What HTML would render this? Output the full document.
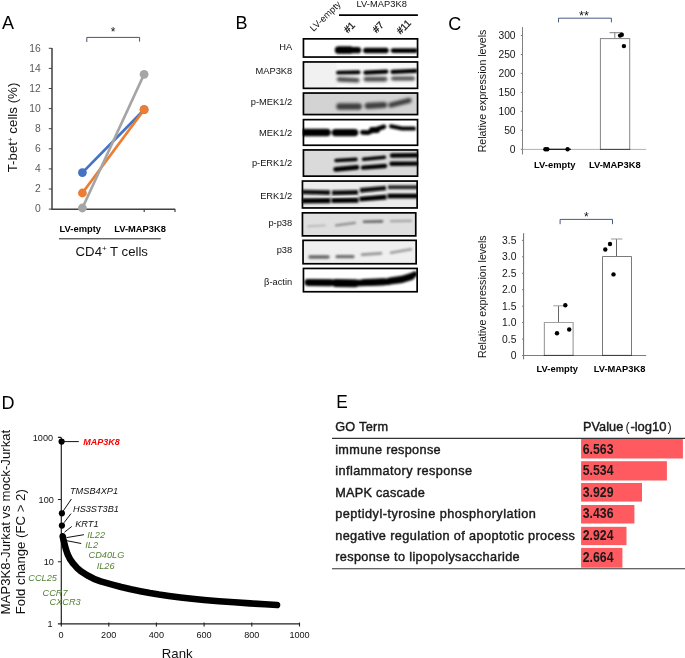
<!DOCTYPE html>
<html>
<head>
<meta charset="utf-8">
<title>Figure</title>
<style>
html,body{margin:0;padding:0;background:#fff;}
body{width:685px;height:658px;overflow:hidden;font-family:"Liberation Sans",sans-serif;}
svg{display:block;will-change:transform;}
svg text{font-family:"Liberation Sans",sans-serif;}
.pl{font-size:18px;fill:#000;}
.bl{font-size:9.35px;font-weight:bold;fill:#000;}
.at{font-size:10.3px;fill:#595959;}
.ct{font-size:10.3px;fill:#151515;}
.bt{font-size:9.3px;fill:#111;}
.bh{font-size:9.8px;fill:#111;stroke:#111;stroke-width:0.3px;}
.dt{font-size:9.1px;fill:#111;}
.gi{font-size:9.2px;font-style:italic;fill:#111;}
.gg{font-size:9.2px;font-style:italic;fill:#548235;}
.et{font-size:12.7px;fill:#1a1a1a;stroke:#1a1a1a;stroke-width:0.42px;}
.en{font-size:14.3px;font-weight:bold;fill:#1a1a1a;}
</style>
</head>
<body>
<svg width="685" height="658" viewBox="0 0 685 658">
<defs>
<filter id="b0" filterUnits="userSpaceOnUse" x="290" y="30" width="140" height="275"><feGaussianBlur stdDeviation="0.6"/></filter>
<filter id="b1" filterUnits="userSpaceOnUse" x="290" y="30" width="140" height="275"><feGaussianBlur stdDeviation="0.9"/></filter>
<filter id="b2" filterUnits="userSpaceOnUse" x="290" y="30" width="140" height="275"><feGaussianBlur stdDeviation="1.4"/></filter>
<filter id="b3" filterUnits="userSpaceOnUse" x="290" y="30" width="140" height="275"><feGaussianBlur stdDeviation="2"/></filter>
</defs>
<rect width="685" height="658" fill="#fff"/>

<!-- ================= PANEL A ================= -->
<g id="panelA">
<text class="pl" x="2.1" y="29.2">A</text>
<!-- bracket -->
<path d="M86.8 42 V37.4 H139.6 V41.6" fill="none" stroke="#44546a" stroke-width="1"/>
<text x="113" y="36.3" font-size="12" text-anchor="middle" fill="#111">*</text>
<!-- axes -->
<path d="M52 48 V209.2 H175.2" fill="none" stroke="#404040" stroke-width="1.5"/>
<g stroke="#404040" stroke-width="1">
<path d="M48.8 48.3H52M48.8 68.4H52M48.8 88.5H52M48.8 108.6H52M48.8 128.7H52M48.8 148.8H52M48.8 168.9H52M48.8 189H52M48.8 209.1H52"/>
<path d="M144.2 209.2V212M175 209.2V212" stroke-width="1.2"/>
</g>
<g class="at" text-anchor="end">
<text x="40.7" y="51.6">16</text>
<text x="40.7" y="71.7">14</text>
<text x="40.7" y="91.8">12</text>
<text x="40.7" y="111.9">10</text>
<text x="40.7" y="132.0">8</text>
<text x="40.7" y="152.1">6</text>
<text x="40.7" y="172.2">4</text>
<text x="40.7" y="192.3">2</text>
<text x="40.7" y="212.4">0</text>
</g>
<text transform="translate(17.4 127.5) rotate(-90)" font-size="13.3" text-anchor="middle" fill="#111">T-bet<tspan font-size="8" dy="-4.5">+</tspan><tspan dy="4.5"> cells (%)</tspan></text>
<!-- series -->
<g stroke-width="2.7" stroke-linecap="round">
<line x1="82.4" y1="172.6" x2="144.1" y2="109.7" stroke="#4472c4"/>
<line x1="82.4" y1="193" x2="144.1" y2="109.7" stroke="#ed7d31"/>
<line x1="82.4" y1="208" x2="144.1" y2="74.3" stroke="#a5a5a5"/>
</g>
<circle cx="82.4" cy="172.6" r="4.4" fill="#4472c4"/>
<circle cx="144.1" cy="109.7" r="4.4" fill="#4472c4"/>
<circle cx="82.4" cy="193" r="4.4" fill="#ed7d31"/>
<circle cx="144.1" cy="109.7" r="4.4" fill="#ed7d31"/>
<circle cx="82.4" cy="208" r="4.4" fill="#a5a5a5"/>
<circle cx="144.1" cy="74.3" r="4.4" fill="#a5a5a5"/>
<text class="bl" x="59.6" y="231.6">LV-empty</text>
<text class="bl" x="114.2" y="231.6">LV-MAP3K8</text>
<line x1="59" y1="238.8" x2="160.8" y2="238.8" stroke="#222" stroke-width="1"/>
<text x="75.6" y="255.7" font-size="13.2" fill="#111">CD4<tspan font-size="8" dy="-4.5">+</tspan><tspan dy="4.5"> T cells</tspan></text>
</g>

<!-- ================= PANEL B ================= -->
<g id="panelB">
<text class="pl" x="235.5" y="29.2" font-size="18.4">B</text>
<text class="bt" x="356.5" y="6.7" font-size="9.7" textLength="50.4" lengthAdjust="spacing">LV-MAP3K8</text>
<line x1="339" y1="15.1" x2="417.9" y2="15.1" stroke="#000" stroke-width="1.9"/>
<text class="bt" transform="translate(313.6 31.9) rotate(-44)" font-size="9.7">LV-empty</text>
<text class="bh" transform="translate(347.8 33.6) rotate(-45)">#1</text>
<text class="bh" transform="translate(376.6 33.4) rotate(-45)">#7</text>
<text class="bh" transform="translate(400.6 34.8) rotate(-45)">#11</text>
<g class="bt" text-anchor="end">
<text x="292.2" y="49.5">HA</text>
<text x="292.2" y="74.4">MAP3K8</text>
<text x="292.2" y="104.9">p-MEK1/2</text>
<text x="292.2" y="135.7">MEK1/2</text>
<text x="292.2" y="165.7">p-ERK1/2</text>
<text x="292.2" y="198.7">ERK1/2</text>
<text x="292.2" y="225.7">p-p38</text>
<text x="292.2" y="252.5">p38</text>
<text x="292.2" y="284.6">β-actin</text>
</g>
<clipPath id="c1"><rect x="302.6" y="38" width="115.8" height="19.9"/></clipPath>
<clipPath id="c2"><rect x="302.6" y="61.1" width="115.8" height="28.1"/></clipPath>
<clipPath id="c3"><rect x="302.6" y="92.2" width="115.8" height="23.2"/></clipPath>
<clipPath id="c4"><rect x="302.6" y="118.8" width="115.8" height="27.3"/></clipPath>
<clipPath id="c5"><rect x="302.6" y="149.1" width="115.8" height="27.9"/></clipPath>
<clipPath id="c6"><rect x="301.6" y="180.3" width="116.4" height="28.5"/></clipPath>
<clipPath id="c7"><rect x="301.6" y="212" width="114.9" height="24.7"/></clipPath>
<clipPath id="c8"><rect x="302.2" y="239.5" width="114.8" height="25.1"/></clipPath>
<clipPath id="c9"><rect x="302.6" y="267.6" width="115.4" height="25"/></clipPath>

<!-- 1 HA -->
<g clip-path="url(#c1)">
<rect x="302.6" y="38" width="115.8" height="19.9" fill="#fff"/>
<g filter="url(#b1)" fill="none" stroke="#000" stroke-linecap="round">
<path d="M338 50.2H358" stroke-width="6.2"/>
<path d="M338.6 50H350" stroke-width="7.4"/>
<path d="M365.8 50.5H386" stroke-width="5.4"/>
<path d="M393 50.6H415.6" stroke-width="4.6"/>
</g>
</g>
<rect x="303.45" y="38.85" width="114.1" height="18.2" fill="none" stroke="#000" stroke-width="1.7"/>

<!-- 2 MAP3K8 -->
<g clip-path="url(#c2)">
<rect x="302.6" y="61.1" width="115.8" height="28.1" fill="#f8f8f8"/>
<rect x="302.6" y="61.1" width="34" height="28.1" fill="#f1f1f1"/>
<g filter="url(#b2)" fill="none" stroke="#484848" stroke-linecap="round">
<path d="M339 79.4L357.4 80.2" stroke-width="4.6"/>
<path d="M366 79.2H385" stroke-width="4.8"/>
<path d="M393 78.4H413" stroke-width="4"/>
</g>
<g filter="url(#b1)" fill="none" stroke="#050505" stroke-linecap="round">
<path d="M338 72.6L358.6 72.2" stroke-width="3.9"/>
<path d="M365.4 72.6L386.4 71.6" stroke-width="4.1"/>
<path d="M392.6 71.8L415.6 70.8" stroke-width="4.3"/>
</g>
</g>
<rect x="303.45" y="61.95" width="114.1" height="26.4" fill="none" stroke="#000" stroke-width="1.7"/>

<!-- 3 p-MEK1/2 -->
<g clip-path="url(#c3)">
<rect x="302.6" y="92.2" width="115.8" height="23.2" fill="#d3d3d3"/>
<g filter="url(#b2)" fill="none" stroke="#3c3c3c" stroke-linecap="round">
<path d="M339.6 106.5H358.6" stroke-width="6.6"/>
<path d="M367.8 105.9L384 105" stroke-width="6.2"/>
<path d="M391 105L409 100.4" stroke-width="5.2"/>
</g>
</g>
<rect x="303.45" y="93.05" width="114.10" height="21.50" fill="none" stroke="#000" stroke-width="1.7"/>

<!-- 4 MEK1/2 -->
<g clip-path="url(#c4)">
<rect x="302.6" y="118.8" width="115.8" height="27.3" fill="#fff"/>
<g filter="url(#b1)" fill="none" stroke="#000" stroke-linecap="round">
<path d="M303 132.5H327" stroke-width="7.6"/>
<path d="M335.4 132.6H354.6" stroke-width="7.4"/>
<path d="M362.4 132.4L368 132.6L375 129.6L384 126.8" stroke-width="4.6"/>
<path d="M372 130H377" stroke-width="6"/>
<path d="M391 126.3L402 128.4L414 128.6" stroke-width="4"/>
</g>
</g>
<rect x="303.45" y="119.65" width="114.10" height="25.60" fill="none" stroke="#000" stroke-width="1.7"/>

<!-- 5 p-ERK1/2 -->
<g clip-path="url(#c5)">
<rect x="302.6" y="149.1" width="115.8" height="27.9" fill="#dadada"/>
<g filter="url(#b1)" fill="none" stroke="#050505" stroke-linecap="round">
<path d="M336 160.5L356 159.4" stroke-width="3.6"/>
<path d="M363.5 159.2L384.5 157.2" stroke-width="3.4"/>
<path d="M392 155.5L417 155.3" stroke-width="4.4"/>
<path d="M335.5 169.4L357 167.4" stroke-width="4.6"/>
<path d="M363 167.6L385 166" stroke-width="4.4"/>
<path d="M391.5 163.8L417 163.6" stroke-width="4.4"/>
</g>
</g>
<rect x="303.45" y="149.95" width="114.10" height="26.20" fill="none" stroke="#000" stroke-width="1.7"/>

<!-- 6 ERK1/2 -->
<g clip-path="url(#c6)">
<rect x="301.6" y="180.3" width="116.4" height="28.5" fill="#ececec"/>
<g filter="url(#b1)" fill="none" stroke-linecap="butt">
<path d="M302 192L330 192.6" stroke="#0c0c0c" stroke-width="4.6"/>
<path d="M332 192.8L358 192.4" stroke="#0c0c0c" stroke-width="4.8"/>
<path d="M360 190.4L386 188" stroke="#0c0c0c" stroke-width="4.6"/>
<path d="M388 187.2L418 187.2" stroke="#2a2a2a" stroke-width="4"/>
<path d="M302 200.8L330.4 200.6" stroke="#000" stroke-width="5.2"/>
<path d="M331.6 200.6L358.4 200.2" stroke="#000" stroke-width="5"/>
<path d="M359.6 199.2L386.4 197" stroke="#000" stroke-width="4.8"/>
<path d="M387.6 196L418 196" stroke="#000" stroke-width="4.8"/>
</g>
<g filter="url(#b0)" fill="none" stroke="#e0e0e0" stroke-width="1.4">
<path d="M302 196.5L329.5 196.6M332 196.7L357 196.3M360 194.9L385 192.5M388 191.6L418 191.6"/>
</g>
</g>
<rect x="302.45" y="181.05" width="114.70" height="26.90" fill="none" stroke="#000" stroke-width="1.7"/>

<!-- 7 p-p38 -->
<g clip-path="url(#c7)">
<rect x="301.6" y="212" width="114.9" height="24.7" fill="#dfdfdf"/>
<g filter="url(#b1)" fill="none" stroke-linecap="round">
<path d="M308 226.4L325 225.4" stroke="#b4b4b4" stroke-width="1.6"/>
<path d="M336 225.4L355 222.8" stroke="#8c8c8c" stroke-width="2.2"/>
<path d="M364 221.8L382 221.4" stroke="#666" stroke-width="2.6"/>
<path d="M391 221.2L411 220.8" stroke="#a2a2a2" stroke-width="2.2"/>
</g>
</g>
<rect x="302.45" y="212.85" width="113.30" height="23.00" fill="none" stroke="#000" stroke-width="1.7"/>

<!-- 8 p38 -->
<g clip-path="url(#c8)">
<rect x="302.2" y="239.5" width="114.8" height="25.2" fill="#efefef"/>
<g filter="url(#b1)" fill="none" stroke-linecap="round">
<path d="M310 257H328" stroke="#666" stroke-width="3.4"/>
<path d="M337 256.7H353" stroke="#6e6e6e" stroke-width="3.2"/>
<path d="M362 254.6L381 253.4" stroke="#949494" stroke-width="2.6"/>
<path d="M391 252.8L411 249.2" stroke="#9c9c9c" stroke-width="2.6"/>
</g>
</g>
<rect x="303.05" y="240.35" width="113.1" height="23.4" fill="none" stroke="#000" stroke-width="1.7"/>

<!-- 9 b-actin -->
<g clip-path="url(#c9)">
<rect x="302.6" y="267.6" width="115.4" height="25" fill="#fff"/>
<g filter="url(#b1)" fill="none" stroke="#000" stroke-linecap="round" stroke-linejoin="round">
<path d="M308 282.4L330 282.8" stroke-width="7"/>
<path d="M336 283L355 283.4" stroke-width="7.8"/>
<path d="M308 282.4L360 283L388 281.8" stroke-width="6.4"/>
<path d="M364 282.6L384 281.8" stroke-width="7"/>
<path d="M390 281L402 279.4L411 276.6" stroke-width="7.2"/>
<path d="M410 277L414.6 274.2" stroke-width="5.6"/>
</g>
</g>
<rect x="303.45" y="268.45" width="113.7" height="23.3" fill="none" stroke="#000" stroke-width="1.7"/>
</g>

<!-- ================= PANEL C ================= -->
<g id="panelC">
<text class="pl" x="448.2" y="29.5" font-size="19">C</text>
<!-- chart 1 -->
<path d="M558.5 22.4V18.2H611.4V22.4" fill="none" stroke="#4a5a80" stroke-width="1"/>
<text x="584" y="19.8" font-size="12.6" text-anchor="middle" fill="#111">**</text>
<line x1="522.5" y1="27" x2="522.5" y2="154.5" stroke="#808080" stroke-width="1"/>
<line x1="522.5" y1="149.4" x2="646.1" y2="149.4" stroke="#b0b0b0" stroke-width="1"/>
<path d="M520.8 35.5H522.5M520.8 54.5H522.5M520.8 73.4H522.5M520.8 92.4H522.5M520.8 111.4H522.5M520.8 130.3H522.5M520.8 149.3H522.5" stroke="#7f7f7f" stroke-width="1"/>
<g class="ct" text-anchor="end">
<text x="515.6" y="39.1">300</text>
<text x="515.6" y="58.1">250</text>
<text x="515.6" y="77">200</text>
<text x="515.6" y="96">150</text>
<text x="515.6" y="115">100</text>
<text x="515.6" y="133.9">50</text>
<text x="515.6" y="152.9">0</text>
</g>
<text transform="translate(486.2 152.3) rotate(-90)" font-size="10.62" fill="#151515">Relative expression levels</text>
<!-- LV-empty (zero) -->
<line x1="545" y1="149.3" x2="571" y2="149.3" stroke="#111" stroke-width="1.2"/>
<circle cx="545.4" cy="149.3" r="2.2" fill="#000"/>
<circle cx="547.3" cy="149.3" r="2.2" fill="#000"/>
<circle cx="567.6" cy="149.3" r="2.2" fill="#000"/>
<!-- LV-MAP3K8 bar -->
<path d="M614.8 38.5V32.7M609.5 32.7H622.4" stroke="#7f7f7f" stroke-width="1" fill="none"/>
<rect x="600.4" y="38.6" width="29.3" height="110.8" fill="#fff" stroke="#858585" stroke-width="1"/><line x1="600" y1="149.4" x2="630.2" y2="149.4" stroke="#444" stroke-width="1"/>
<circle cx="620.1" cy="35.6" r="2.2" fill="#000"/>
<circle cx="621.8" cy="34.8" r="2.2" fill="#000"/>
<circle cx="623.9" cy="46.1" r="2.2" fill="#000"/>
<text class="bl" x="534.1" y="168.3">LV-empty</text>
<text class="bl" x="589" y="168.3">LV-MAP3K8</text>

<!-- chart 2 -->
<path d="M560.1 224.2V219.4H612.5V224.2" fill="none" stroke="#4a5a80" stroke-width="1"/>
<text x="586.3" y="221" font-size="12" text-anchor="middle" fill="#111">*</text>
<line x1="523.6" y1="233.2" x2="523.6" y2="359.3" stroke="#5a5a5a" stroke-width="0.9"/>
<line x1="523.6" y1="355.5" x2="646.1" y2="355.5" stroke="#7c7c7c" stroke-width="1"/>
<path d="M522 240.4H523.6M522 256.8H523.6M522 273.3H523.6M522 289.7H523.6M522 306.2H523.6M522 322.6H523.6M522 339.1H523.6M522 355.5H523.6" stroke="#7f7f7f" stroke-width="1"/>
<g class="ct" text-anchor="end">
<text x="516.4" y="244">3.5</text>
<text x="516.4" y="260.4">3.0</text>
<text x="516.4" y="276.9">2.5</text>
<text x="516.4" y="293.3">2.0</text>
<text x="516.4" y="309.8">1.5</text>
<text x="516.4" y="326.2">1.0</text>
<text x="516.4" y="342.7">0.5</text>
<text x="516.4" y="359.1">0</text>
</g>
<text transform="translate(486.2 358) rotate(-90)" font-size="10.62" fill="#151515">Relative expression levels</text>
<path d="M558.5 322.6V305.8" stroke="#555" stroke-width="0.9" fill="none"/><path d="M553.3 305.8H563" stroke="#a0a0a0" stroke-width="1" fill="none"/>
<path d="M544.4 355.4V322.5H573.1V355.4" fill="#fff" stroke="#a2a2a2" stroke-width="1.2"/><line x1="543.8" y1="355.4" x2="573.7" y2="355.4" stroke="#333" stroke-width="1"/>
<path d="M616.5 256.5V239" stroke="#555" stroke-width="0.9" fill="none"/><path d="M611 239H622.4" stroke="#999" stroke-width="1" fill="none"/>
<path d="M602.5 355.4V256.5H631.5V355.4" fill="#fff" stroke="#6c6c6c" stroke-width="0.9"/><line x1="602" y1="355.4" x2="632" y2="355.4" stroke="#333" stroke-width="1"/>
<circle cx="565.3" cy="305.2" r="2.2" fill="#000"/>
<circle cx="557" cy="333.3" r="2.2" fill="#000"/>
<circle cx="569.2" cy="329.5" r="2.2" fill="#000"/>
<circle cx="610" cy="244" r="2.2" fill="#000"/>
<circle cx="605.3" cy="249.5" r="2.2" fill="#000"/>
<circle cx="613.5" cy="274.4" r="2.2" fill="#000"/>
<text class="bl" x="536.6" y="372.4">LV-empty</text>
<text class="bl" x="593.7" y="372.4">LV-MAP3K8</text>
</g>

<!-- ================= PANEL D ================= -->
<g id="panelD">
<text class="pl" x="1.5" y="408.7" font-size="19.1">D</text>
<path d="M61.3 437.4V623.9H299.5" fill="none" stroke="#222" stroke-width="1.2"/>
<path d="M57.9 437.4H61.3M57.9 499.5H61.3M57.9 561.7H61.3M57.9 623.9H61.3" stroke="#222" stroke-width="1.1"/>
<path d="M61.3 622.4V626.6M108.8 622.4V626.6M156.4 622.4V626.6M204.1 622.4V626.6M251.8 622.4V626.6M299.5 622.4V626.6" stroke="#222" stroke-width="1.1"/>
<g class="dt" text-anchor="end">
<text x="53" y="440.9">1000</text>
<text x="53.8" y="502.9">100</text>
<text x="53.8" y="565">10</text>
<text x="52.5" y="627.2">1</text>
</g>
<g class="dt" text-anchor="middle">
<text x="61.1" y="638.3">0</text>
<text x="108.7" y="638.3">200</text>
<text x="156.4" y="638.3">400</text>
<text x="204.1" y="638.3">600</text>
<text x="251.8" y="638.3">800</text>
<text x="299.5" y="638.3">1000</text>
</g>
<text x="161.8" y="657.6" font-size="13.2" fill="#111">Rank</text>
<text transform="translate(10.1 614.4) rotate(-90)" font-size="13.2" fill="#111">MAP3K8-Jurkat vs mock-Jurkat</text>
<text transform="translate(25.3 614.2) rotate(-90)" font-size="13.2" fill="#111">Fold change (FC &gt; 2)</text>
<!-- curve -->
<polyline fill="none" stroke="#000" stroke-width="6.6" stroke-linecap="round" stroke-linejoin="round"
 points="62.7,536.3 63.4,539.5 64.7,544.7 66,549.5 67.6,554.2 70.2,559.4 73.3,563.7 76.8,567.7 80.9,571.2 87.1,575.3 93.9,578.8 100.7,581.3 112.3,584.6 121.2,587 130.9,589.3 140.3,591.2 149.9,593.1 159,594.6 168.9,596 180.6,597.5 192,598.8 204.1,600 219,601.2 234.3,602.3 250,603.4 265,604.3 277,605"/>
<circle cx="61.6" cy="441.6" r="3.1" fill="#000"/>
<circle cx="61.9" cy="513.3" r="3.1" fill="#000"/>
<circle cx="61.9" cy="525.6" r="3.1" fill="#000"/>
<g stroke="#111" stroke-width="1" fill="none">
<path d="M61.3 441.6H78.8"/>
<path d="M63 511.3L71.4 499"/>
<path d="M63.9 522.8L71 513.6"/>
<path d="M64.5 532.2L71.7 526.5"/>
<path d="M66.6 537.6L83.9 534.7"/>
<path d="M66.8 540.7L81.2 543.5"/>
</g>
<text x="83.3" y="444.8" font-size="9" font-weight="bold" font-style="italic" fill="#ff0000">MAP3K8</text>
<text class="gi" x="70" y="493.7">TMSB4XP1</text>
<text class="gi" x="73" y="512.3">HS3ST3B1</text>
<text class="gi" x="75.2" y="526.5">KRT1</text>
<text class="gg" x="87.2" y="537.9">IL22</text>
<text class="gg" x="85.3" y="548.3">IL2</text>
<text class="gg" x="88.6" y="558.2">CD40LG</text>
<text class="gg" x="96.7" y="569.2">IL26</text>
<text class="gg" x="28.3" y="581.2">CCL25</text>
<text class="gg" x="42.5" y="595.6">CCR7</text>
<text class="gg" x="49.5" y="605.4">CXCR3</text>
</g>

<!-- ================= PANEL E ================= -->
<g id="panelE">
<text x="336.2" y="408.4" font-size="18.6" textLength="11.5" lengthAdjust="spacingAndGlyphs" fill="#000">E</text>
<g class="et">
<text x="335.2" y="431.1" textLength="52.9" lengthAdjust="spacing">GO Term</text>
<text x="583" y="431.1" textLength="40.2" lengthAdjust="spacing">PValue</text>
<text x="630.4" y="431.1" textLength="36.1" lengthAdjust="spacingAndGlyphs">-log10</text>
</g>
<text x="625.4" y="431" font-size="12.6" fill="#1a1a1a">(</text>
<text x="667.6" y="431" font-size="12.6" fill="#1a1a1a">)</text>
<line x1="332" y1="438.4" x2="685" y2="438.4" stroke="#333" stroke-width="1.1"/>
<line x1="332" y1="568.7" x2="685" y2="568.7" stroke="#333" stroke-width="1.1"/>
<g fill="#ff5a60">
<rect x="581.1" y="439" width="101.8" height="19.5"/>
<rect x="581.1" y="461.2" width="85.8" height="19.3"/>
<rect x="581.1" y="483" width="60.9" height="18.6"/>
<rect x="581.1" y="505" width="53.3" height="18.5"/>
<rect x="581.1" y="526.8" width="45.4" height="18.3"/>
<rect x="581.1" y="547.9" width="41.3" height="19.8"/>
</g>
<g class="et">
<text x="335.2" y="453.6" textLength="105.4" lengthAdjust="spacing">immune response</text>
<text x="335.2" y="475" textLength="136.9" lengthAdjust="spacing">inflammatory response</text>
<text x="335.2" y="496.6" textLength="89.6" lengthAdjust="spacing">MAPK cascade</text>
<text x="335.2" y="518" textLength="200.7" lengthAdjust="spacing">peptidyl-tyrosine phosphorylation</text>
<text x="335.2" y="539.5" textLength="239.6" lengthAdjust="spacing">negative regulation of apoptotic process</text>
<text x="335.2" y="560.9" textLength="184.4" lengthAdjust="spacing">response to lipopolysaccharide</text>
</g>
<g class="en">
<text x="582.8" y="453.6" textLength="30.7" lengthAdjust="spacingAndGlyphs">6.563</text>
<text x="582.8" y="475" textLength="30.7" lengthAdjust="spacingAndGlyphs">5.534</text>
<text x="582.8" y="496.6" textLength="30.7" lengthAdjust="spacingAndGlyphs">3.929</text>
<text x="582.8" y="518.1" textLength="30.7" lengthAdjust="spacingAndGlyphs">3.436</text>
<text x="582.8" y="539.8" textLength="30.7" lengthAdjust="spacingAndGlyphs">2.924</text>
<text x="582.8" y="561.6" textLength="30.7" lengthAdjust="spacingAndGlyphs">2.664</text>
</g>
</g>
</svg>
</body>
</html>
